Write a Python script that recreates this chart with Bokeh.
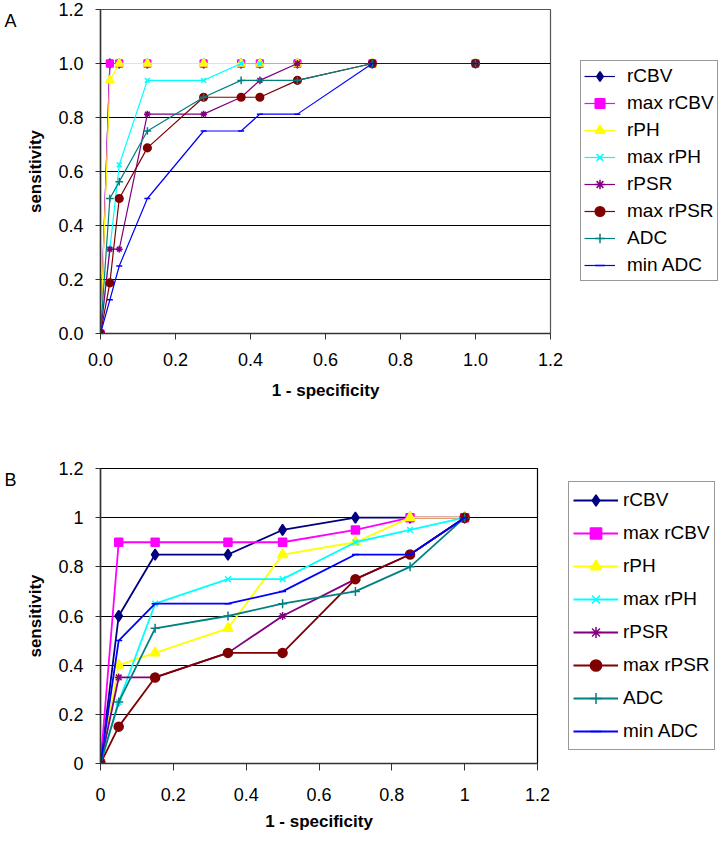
from bokeh.plotting import figure
from bokeh.models import Legend, FixedTicker
from bokeh.layouts import column, row
from bokeh.core.properties import value
from bokeh.embed import file_html
from bokeh.resources import INLINE

# ---------------- data ----------------
series_names = ["rCBV", "max rCBV", "rPH", "max rPH", "rPSR", "max rPSR", "ADC", "min ADC"]

A_x = [0, 0.025, 0.05, 0.125, 0.275, 0.375, 0.425, 0.525, 0.725, 1.0]
A_rCBV = [0, 1, 1, 1, 1, 1, 1, 1, 1, 1]
A_max_rCBV = [0, 1, 1, 1, 1, 1, 1, 1, 1, 1]
A_rPH = [0, 0.9375, 1, 1, 1, 1, 1, 1, 1, 1]
A_max_rPH = [0, 0.3125, 0.625, 0.9375, 0.9375, 1, 1, 1, 1, 1]
A_rPSR = [0, 0.3125, 0.3125, 0.8125, 0.8125, 0.875, 0.9375, 1, 1, 1]
A_max_rPSR = [0, 0.1875, 0.5, 0.6875, 0.875, 0.875, 0.875, 0.9375, 1, 1]
A_ADC = [0, 0.5, 0.5625, 0.75, 0.875, 0.9375, 0.9375, 0.9375, 1, 1]
A_min_ADC = [0, 0.125, 0.25, 0.5, 0.75, 0.75, 0.8125, 0.8125, 1, 1]

B_x = [0, 0.05, 0.15, 0.35, 0.5, 0.7, 0.85, 1.0]
B_rCBV = [0, 0.6, 0.85, 0.85, 0.95, 1, 1, 1]
B_max_rCBV = [0, 0.9, 0.9, 0.9, 0.9, 0.95, 1, 1]
B_rPH = [0, 0.4, 0.45, 0.55, 0.85, 0.9, 1, 1]
B_max_rPH = [0, 0.25, 0.65, 0.75, 0.75, 0.9, 0.95, 1]
B_rPSR = [0, 0.35, 0.35, 0.45, 0.6, 0.75, 0.85, 1]
B_max_rPSR = [0, 0.15, 0.35, 0.45, 0.45, 0.75, 0.85, 1]
B_ADC = [0, 0.25, 0.55, 0.6, 0.65, 0.7, 0.8, 1]
B_min_ADC = [0, 0.5, 0.65, 0.65, 0.7, 0.85, 0.85, 1]

ticks = [0, 0.2, 0.4, 0.6, 0.8, 1.0, 1.2]
A_tick_labels = ["0.0", "0.2", "0.4", "0.6", "0.8", "1.0", "1.2"]
B_tick_labels = ["0", "0.2", "0.4", "0.6", "0.8", "1", "1.2"]

panel_letters = ["A", "B"]
x_title = "1 - specificity"
y_title = "sensitivity"

# ---------------- styles ----------------
colors = ["#000080", "#FF00FF", "#FFFF00", "#00FFFF", "#800080", "#800000", "#008080", "#0000FF"]
markers = ["diamond", "square", "triangle", "x", "asterisk", "circle", "cross", "dash"]
msizes = [11, 8, 10, 8, 8, 9, 9, 7]
FONT = "Liberation Sans"
LETTER_W = 20

A_series = [A_rCBV, A_max_rCBV, A_rPH, A_max_rPH, A_rPSR, A_max_rPSR, A_ADC, A_min_ADC]
B_series = [B_rCBV, B_max_rCBV, B_rPH, B_max_rPH, B_rPSR, B_max_rPSR, B_ADC, B_min_ADC]


def letter_fig(letter, frame_h, mb_top, mb_bottom, y_from_top):
    # frame of this strip is aligned with the neighbouring chart frame
    f = figure(frame_width=LETTER_W, frame_height=frame_h,
               min_border_left=0, min_border_right=0,
               min_border_top=mb_top, min_border_bottom=mb_bottom,
               x_range=(0, LETTER_W), y_range=(0, frame_h),
               x_axis_location=None, y_axis_location=None,
               output_backend="svg", toolbar_location=None)
    f.outline_line_color = None
    f.grid.grid_line_color = None
    f.text(x=[4], y=[frame_h - (y_from_top - mb_top)], text=[letter], text_font=value(FONT),
           text_font_size="18px", text_color="black", text_baseline="middle",
           text_align="left")
    return f


def make_panel(xs, series, tick_labels, frame_w, frame_h, mb_top, mb_bottom, mb_right,
               lw, msz_scale, legend_loc, glyph_w, glyph_h, spacing, padding, standoff,
               tick_out, tick_standoff, label_standoff, outline_color):
    p = figure(frame_width=frame_w, frame_height=frame_h,
               min_border_left=100 - LETTER_W, min_border_right=mb_right,
               min_border_top=mb_top, min_border_bottom=mb_bottom,
               x_range=(0, 1.2), y_range=(0, 1.2),
               output_backend="svg", toolbar_location=None,
               background_fill_color="white", border_fill_color="white")
    overrides = {t: l for t, l in zip(ticks, tick_labels)}
    for ax in (p.xaxis[0], p.yaxis[0]):
        ax.ticker = FixedTicker(ticks=ticks)
        ax.major_label_overrides = overrides
        ax.minor_tick_line_color = None
        ax.major_tick_in = 0
        ax.major_tick_out = tick_out
        ax.major_label_text_font = FONT
        ax.major_label_text_font_size = "18px"
        ax.major_label_text_color = "black"
        ax.axis_label_text_font = FONT
        ax.axis_label_text_font_size = "17px"
        ax.axis_label_text_font_style = "bold"
        ax.axis_label_text_color = "black"
        ax.axis_line_color = "#333333"
        ax.axis_line_width = 1.5
        ax.major_tick_line_color = "#333333"
        ax.major_label_standoff = tick_standoff
        ax.axis_label_standoff = label_standoff
    p.yaxis[0].axis_label_standoff = 10
    p.yaxis[0].major_label_standoff = 12
    p.yaxis[0].major_tick_out = 5
    p.xaxis.axis_label = x_title
    p.yaxis.axis_label = y_title
    p.xgrid.grid_line_color = None
    p.ygrid.grid_line_color = "black"
    p.ygrid.grid_line_width = 1
    p.outline_line_color = outline_color
    p.outline_line_width = 1.2

    items = []
    for name, ys, c, m, s in zip(series_names, series, colors, markers, msizes):
        r1 = p.line(xs, ys, line_color=c, line_width=lw)
        r2 = p.scatter(xs, ys, marker=m, size=s * msz_scale, fill_color=c, line_color=c,
                       line_width=1.5)
        items.append((name, [r1, r2]))
    legend = Legend(items=items, location=legend_loc,
                    label_text_font=FONT, label_text_font_size="19px",
                    label_text_color="black",
                    glyph_width=glyph_w, glyph_height=glyph_h, label_height=glyph_h,
                    spacing=spacing, padding=padding, label_standoff=standoff,
                    border_line_color="#333333", border_line_width=1.2,
                    background_fill_color="white", background_fill_alpha=1.0, margin=0)
    p.add_layout(legend, "right")
    return p


# panel A: frame x 100..550, y 9..333 ; figure height 420
pA = make_panel(A_x, A_series, A_tick_labels, 450, 324, 9, 87, 175,
                1.2, 0.85, (30, 52), 31, 24, 3, 3, 12, 6, 13, 12, "#555555")
# panel B: frame x 100..537, y 468..763 (page) ; figure height 421
pB = make_panel(B_x, B_series, B_tick_labels, 437, 295, 48, 78, 188,
                1.8, 1.0, (31, 13), 45, 28, 5, 4, 5, 7, 17, 8, "black")

lA = letter_fig(panel_letters[0], 324, 9, 87, 20)
lB = letter_fig(panel_letters[1], 295, 48, 78, 59)

layout = column(row(lA, pA, spacing=0), row(lB, pB, spacing=0), spacing=0)
open("out.html", "w").write(file_html(layout, INLINE))
